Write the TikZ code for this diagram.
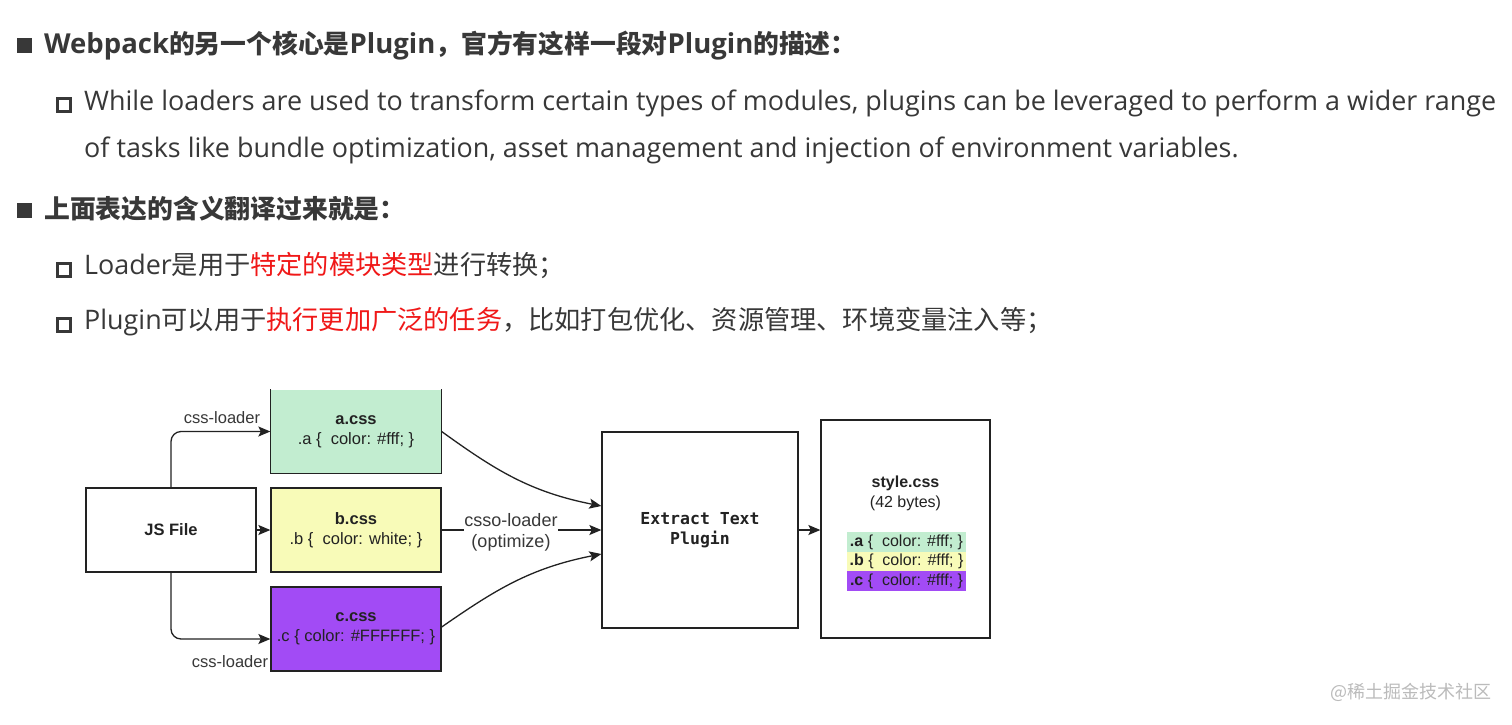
\documentclass[tikz,border=0pt]{standalone}
\usepackage{fontspec}
\setmainfont{Liberation Sans}
\setmonofont{DejaVu Sans Mono}
\newfontfamily\cjk{Noto Sans CJK SC}
\newfontfamily\lat{Open Sans}
\newcommand{\la}[1]{{\lat\fontsize{26.9}{30}\selectfont #1}}
\newcommand{\lab}[1]{{\lat\bfseries\fontsize{27.5}{30}\selectfont #1}}
\usetikzlibrary{arrows.meta,calc}
\definecolor{txt}{HTML}{383838}
\definecolor{dtxt}{HTML}{222222}
\definecolor{redtxt}{HTML}{F01818}
\definecolor{agreen}{HTML}{C2EDD0}
\definecolor{byellow}{HTML}{F8FBB8}
\definecolor{cpurple}{HTML}{A24BF5}
\definecolor{wm}{HTML}{BBBBBB}
\tikzset{
  fbullet/.style={fill=txt, minimum size=15pt, inner sep=0pt},
  hbullet/.style={draw=txt, line width=2.8pt, minimum size=13pt, inner sep=0pt},
  toptext/.style={anchor=base west, inner sep=0pt, text=txt, font=\cjk\fontsize{26.2}{30}\selectfont},
  boldtext/.style={toptext, font=\cjk\bfseries\fontsize{25.8}{30}\selectfont},
  engtext/.style={toptext, font=\lat\fontsize{26.9}{30}\selectfont},
  cssbox/.style={line width=1.3pt, draw=dtxt, minimum width=170pt, minimum height=84pt, inner sep=0pt, align=center, font=\fontsize{16.5}{20}\selectfont, text=dtxt},
  lbl/.style={inner sep=1pt, text=txt, font=\fontsize{16.5}{22}\selectfont, align=center},
  arr/.style={line width=1.3pt, draw=dtxt, -{Stealth[length=12pt,width=10pt,inset=2.5pt]}},
  hl/.style={inner sep=0pt, minimum width=119pt, minimum height=19.5pt, font=\fontsize{16}{18}\selectfont, text=dtxt}
}
\begin{document}
\begin{tikzpicture}[x=1pt,y=-1pt]
\useasboundingbox[fill=white] (0,0) rectangle (1512,724);
% top text
\node[fbullet] (b1) at (24.5,45.5) {};
\node[boldtext] (t1) at (44,53) {\lab{Webpack}的另一个核心是\lab{Plugin}，官方有这样一段对\lab{Plugin}的描述：};
\node[hbullet] (b2) at (64,105) {};
\node[engtext] (t2) at (84,110) {While loaders are used to transform certain types of modules, plugins can be leveraged to perform a wider range};
\node[engtext] (t3) at (84,157) {of tasks like bundle optimization, asset management and injection of environment variables.};
\node[fbullet] (b3) at (24.5,210.5) {};
\node[boldtext] (t4) at (44,218) {上面表达的含义翻译过来就是：};
\node[hbullet] (b4) at (64,270) {};
\node[toptext] (t5) at (84,274) {\la{Loader}是用于\textcolor{redtxt}{特定的模块类型}进行转换；};
\node[hbullet] (b5) at (64,325) {};
\node[toptext] (t6) at (84,329) {\la{Plugin}可以用于\textcolor{redtxt}{执行更加广泛的任务}，比如打包优化、资源管理、环境变量注入等；};
% diagram
\node[cssbox, draw=none, fill=agreen, minimum height=83pt] (a) at (356,431.5) {\textbf{a.css}\\.a \{~ color: \#fff; \}};
\draw[line width=1.3pt, draw=dtxt] (a.north west) -- (a.south west) -- (a.south east) -- (a.north east);
\node[cssbox, fill=byellow] (b) at (356,530) {\textbf{b.css}\\.b \{~ color: white; \}};
\node[cssbox, fill=cpurple] (c) at (356,629) {\textbf{c.css}\\.c \{ color: \#FFFFFF; \}};
\node[cssbox, fill=white] (js) at (171,530) {\textbf{JS File}};
\node[cssbox, fill=white, minimum width=196pt, minimum height=196pt, font=\ttfamily\bfseries\fontsize{16.5}{20}\selectfont] (ex) at (700,530) {Extract Text\\Plugin};
\node[cssbox, fill=white, minimum width=169pt, minimum height=218pt] (st) at (905.5,529) {};
\node[lbl, font=\fontsize{16}{20}\selectfont, text=dtxt] (sttitle) at (905.5,493) {\textbf{style.css}\\(42 bytes)};
\node[hl, fill=agreen] (ha) at (906.5,542) {\textbf{.a} \{~ color: \#fff; \}};
\node[hl, fill=byellow] (hb) at (906.5,561.5) {\textbf{.b} \{~ color: \#fff; \}};
\node[hl, fill=cpurple] (hc) at (906.5,581) {\textbf{.c} \{~ color: \#fff; \}};
% connectors
\draw[arr, rounded corners=10pt] (js.north) |- (a.west);
\node[lbl] (la) at (222,418) {css-loader};
\coordinate (cin) at ($(c.west)+(0,10)$);
\draw[arr, rounded corners=10pt] (js.south) |- (cin);
\node[lbl] (lc) at (230,662) {css-loader};
\draw[arr] (js.east) -- (b.west);
\coordinate (exa) at ($(ex.west)+(0,-24)$);
\coordinate (exc) at ($(ex.west)+(0,24)$);
\coordinate (cout) at ($(c.east)+(0,-2)$);
\draw[arr] (a.east) .. controls (495,470) and (530,492) .. (exa);
\draw[arr] (cout) .. controls (495,590) and (530,568) .. (exc);
\draw[arr] (b.east) -- (ex.west);
\node[lbl, fill=white, inner sep=0pt, font=\fontsize{18}{21}\selectfont] (lb) at (511,532) {csso-loader\\(optimize)};
\draw[arr] (ex.east) -- (st.west |- ex.east);
% watermark
\node[inner sep=0pt, text=wm, font=\cjk\fontsize{18}{20}\selectfont] (w) at (1411,692) {@稀土掘金技术社区};
\end{tikzpicture}
\end{document}
